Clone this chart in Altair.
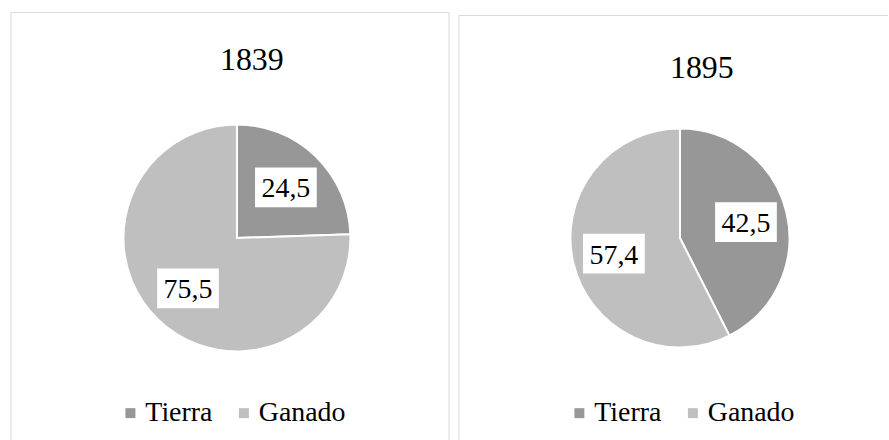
import altair as alt
import pandas as pd

years = ["1839", "1895"]
categories = ["Tierra", "Ganado"]
values_1839 = [24.5, 75.5]
values_1895 = [42.5, 57.4]
colors = ["#979797", "#bfbfbf"]

FONT = "Liberation Serif"
BORDER = "#d9d9d9"


def panel(year, values, W, H, cx, cy, R, tx, ty, lx, ly, top, right_border):
    df = pd.DataFrame({"cat": categories, "v": values, "order": list(range(len(categories)))})

    arc = alt.Chart(df).mark_arc(outerRadius=R, stroke="white", strokeWidth=2).encode(
        theta=alt.Theta("v:Q", stack=True),
        color=alt.Color(
            "cat:N",
            scale=alt.Scale(domain=categories, range=colors),
            legend=alt.Legend(
                title=None, orient="none", legendX=lx, legendY=ly, direction="horizontal",
                symbolType="square", symbolSize=100, symbolStrokeWidth=0, symbolOffset=2,
                labelFont=FONT, labelFontSize=28, labelColor="black",
                labelOffset=1, columnPadding=15, padding=0,
            ),
        ),
        order=alt.Order("order:Q"),
        x=alt.value(cx),
        y=alt.value(cy),
    )

    rr = R * 0.62
    base = (
        alt.Chart(df)
        .transform_joinaggregate(total="sum(v)")
        .transform_window(cum="sum(v)", sort=[alt.SortField("order")], frame=[None, 0])
        .transform_calculate(
            mid="(datum.cum - datum.v/2)/datum.total*2*PI",
            lab="replace(format(datum.v, '.1f'), '.', ',')",
        )
        .transform_calculate(
            lx=f"{cx} + {rr}*sin(datum.mid)",
            ly=f"{cy} - {rr}*cos(datum.mid)",
        )
        .encode(
            x=alt.X("lx:Q", scale=alt.Scale(domain=[0, W], nice=False, zero=False), axis=None),
            y=alt.Y("ly:Q", scale=alt.Scale(domain=[0, H], nice=False, zero=False, reverse=True), axis=None),
        )
    )
    box = base.mark_point(
        shape="M-1.55,-1L1.55,-1L1.55,1L-1.55,1Z", size=1600,
        filled=True, fill="white", opacity=1, strokeWidth=0,
    )
    txt = base.mark_text(font=FONT, fontSize=28, baseline="middle", align="center", color="black", dy=2).encode(
        text="lab:N"
    )

    title = alt.Chart(pd.DataFrame({"year": [year]})).mark_text(
        font=FONT, fontSize=32, baseline="alphabetic", align="center", color="black"
    ).encode(text="year:N", x=alt.value(tx), y=alt.value(ty))

    one = pd.DataFrame({"a": [0]})
    rules = [
        alt.Chart(one).mark_rule(color=BORDER, strokeWidth=1).encode(
            x=alt.value(0), x2=alt.value(W), y=alt.value(top)),
        alt.Chart(one).mark_rule(color=BORDER, strokeWidth=1).encode(
            x=alt.value(0), y=alt.value(top), y2=alt.value(H + 5)),
    ]
    if right_border:
        rules.append(alt.Chart(one).mark_rule(color=BORDER, strokeWidth=1).encode(
            x=alt.value(W), y=alt.value(top), y2=alt.value(H + 5)))

    return alt.layer(*rules, arc, box, txt, title).properties(width=W, height=H)


left = panel(years[0], values_1839, 440, 428, 227, 227, 114, 242, 58, 104, 389, 0.5, True)
right = panel(years[1], values_1895, 431, 428, 222, 227, 110, 244, 66, 105, 389, 3.5, False)

chart = (
    alt.hconcat(left, right, spacing=8)
    .resolve_scale(color="independent", x="independent", y="independent", theta="independent")
    .configure_view(stroke=None)
    .properties(padding={"left": 10, "top": 11, "right": 0, "bottom": 0}, background="white")
)

chart.save("out.html", embed_options={"renderer": "svg", "actions": False})
